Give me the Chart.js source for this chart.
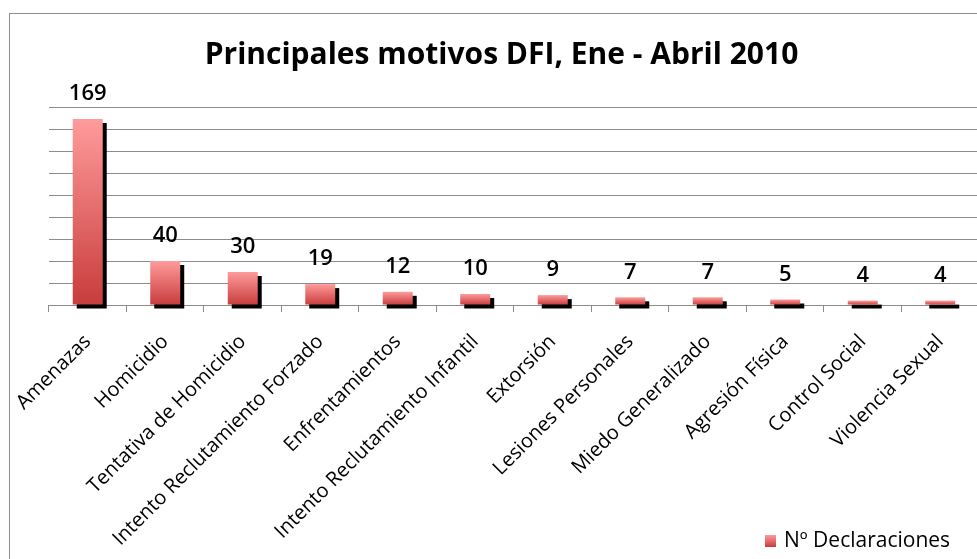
<!DOCTYPE html>
<html>
<head>
<meta charset="utf-8">
<script src="https://cdn.jsdelivr.net/npm/chart.js@4"></script>
<style>
    html, body { margin: 0; padding: 0; background: #fff; overflow: hidden; }
    #wrap { position: absolute; left: 0; top: 0; width: 1000px; height: 559px; }
    #frame { position: absolute; left: 9px; top: 13px; width: 1100px; height: 700px; border: 1px solid #8c8c8c; }
</style>
</head>
<body>
<div id="frame"></div>
<div id="wrap"><canvas id="chart" width="1000" height="559"></canvas></div>
<script>
const categories = [
    'Amenazas', 'Homicidio', 'Tentativa de Homicidio', 'Intento Reclutamiento Forzado',
    'Enfrentamientos', 'Intento Reclutamiento Infantil', 'Extorsión', 'Lesiones Personales',
    'Miedo Generalizado', 'Agresión Física', 'Control Social', 'Violencia Sexual'
];
const declaraciones = [169, 40, 30, 19, 12, 10, 9, 7, 7, 5, 4, 4];
const seriesName = 'Nº Declaraciones';
const chartTitle = 'Principales motivos DFI, Ene - Abril 2010';

const FONT = '"Open Sans", Lato, sans-serif';
const GRID = '#8c8c8c';

function barGradient(ctx, top, bottom) {
    const g = ctx.createLinearGradient(0, top, 0, bottom);
    g.addColorStop(0, '#ff9b9b');
    g.addColorStop(1, '#c83c3c');
    return g;
}

// black drop shadow under every bar
const shadowPlugin = {
    id: 'barShadow',
    beforeDatasetDraw(chart) {
        const ctx = chart.ctx;
        ctx.save();
        ctx.shadowColor = '#000';
        ctx.shadowOffsetX = 4;
        ctx.shadowOffsetY = 4;
        ctx.shadowBlur = 0;
    },
    afterDatasetDraw(chart) {
        chart.ctx.restore();
    }
};

// value labels above the bars
const valueLabels = {
    id: 'valueLabels',
    afterDatasetsDraw(chart) {
        const ctx = chart.ctx;
        const meta = chart.getDatasetMeta(0);
        ctx.save();
        ctx.font = '600 22px ' + FONT;
        ctx.fillStyle = '#000';
        ctx.textAlign = 'center';
        ctx.textBaseline = 'middle';
        meta.data.forEach((bar, i) => {
            ctx.fillText(String(declaraciones[i]), bar.x, bar.y - 25);
        });
        ctx.restore();
    }
};

// legend in the bottom right corner
const cornerLegend = {
    id: 'cornerLegend',
    afterDraw(chart) {
        const ctx = chart.ctx;
        const x = chart.chartArea.right - 214;
        const y = 541;
        ctx.save();
        ctx.fillStyle = barGradient(ctx, y - 6, y + 6);
        ctx.fillRect(x, y - 6, 11, 12);
        ctx.font = '21px ' + FONT;
        ctx.fillStyle = '#000';
        ctx.textAlign = 'left';
        ctx.textBaseline = 'middle';
        ctx.fillText(seriesName, x + 19, y);
        ctx.restore();
    }
};

new Chart(document.getElementById('chart'), {
    type: 'bar',
    data: {
        labels: categories,
        datasets: [{
            label: seriesName,
            data: declaraciones,
            backgroundColor: function(c) {
                const chart = c.chart;
                if (!chart.chartArea) return '#e06060';
                const y = chart.scales.y;
                return barGradient(chart.ctx, y.getPixelForValue(c.raw), y.getPixelForValue(0));
            },
            borderWidth: 0,
            barPercentage: 0.387,
            categoryPercentage: 1,
            clip: false
        }]
    },
    options: {
        responsive: false,
        animation: false,
        layout: { padding: { left: 24, right: 21, top: 0, bottom: 0 } },
        plugins: {
            legend: { display: false },
            tooltip: { enabled: false },
            title: {
                display: true,
                text: chartTitle,
                color: '#000',
                font: { family: FONT, size: 30, weight: 'bold' },
                padding: { top: 37, bottom: 34 }
            }
        },
        scales: {
            x: {
                grid: { drawOnChartArea: false, color: GRID, tickLength: 7 },
                border: { display: true, color: GRID },
                ticks: {
                    color: '#000',
                    font: { family: FONT, size: 20 },
                    maxRotation: 45,
                    minRotation: 45,
                    autoSkip: false,
                    padding: 18
                },
                afterFit(scale) { scale.height = 254; }
            },
            y: {
                min: 0,
                max: 180,
                grid: { color: GRID, drawTicks: false },
                border: { display: false },
                ticks: { display: false, stepSize: 20 },
                afterFit(scale) { scale.width = 24; }
            }
        }
    },
    plugins: [shadowPlugin, valueLabels, cornerLegend]
});
</script>
</body>
</html>
